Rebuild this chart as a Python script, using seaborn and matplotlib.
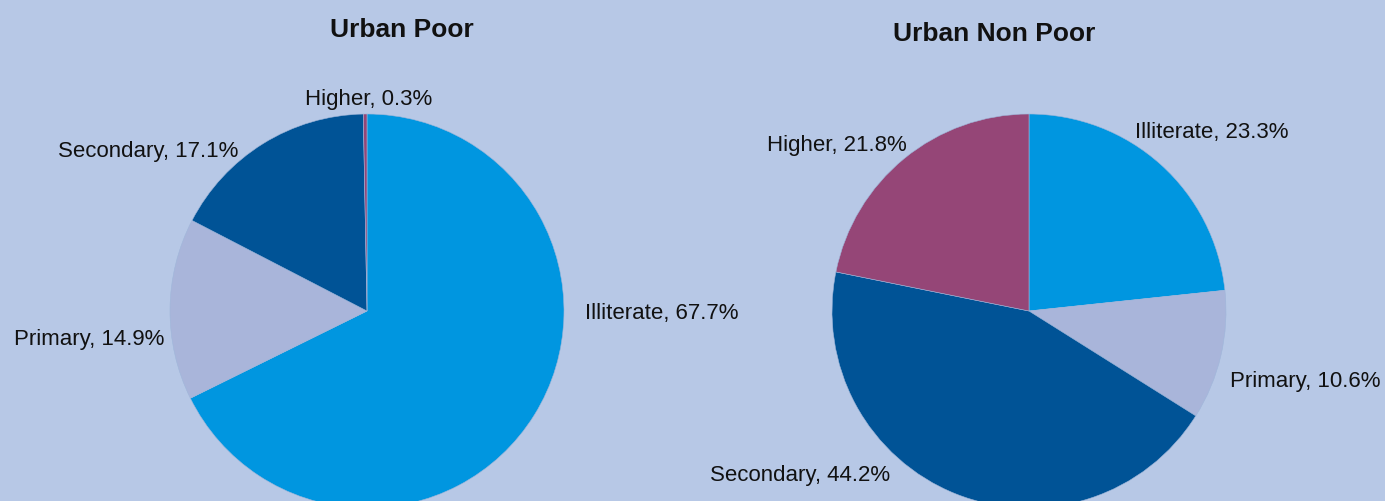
import matplotlib
matplotlib.use("Agg")
import matplotlib.pyplot as plt
import seaborn as sns

categories = ["Illiterate", "Primary", "Secondary", "Higher"]
poor_values = [67.7, 14.9, 17.1, 0.3]
nonpoor_values = [23.3, 10.6, 44.2, 21.8]
titles = ["Urban Poor", "Urban Non Poor"]

colors = ["#0096E0", "#A9B5DA", "#005396", "#954677"]
bg = "#B7C8E6"

sns.set_theme(style="white")
plt.rcParams['font.family'] = ['Liberation Sans', 'DejaVu Sans']

W, H = 1385, 501
fig = plt.figure(figsize=(W / 100, H / 100), dpi=100, facecolor=bg)

def px_axes(cx, cy, r):
    return fig.add_axes([(cx - r) / W, (H - cy - r) / H, 2 * r / W, 2 * r / H])

def place(text, x, y, size=16, **kw):
    fig.text(x / W, 1 - y / H, text, ha="center", va="center", fontsize=size,
             color="#111111", **kw)

# label pixel positions for each category (layout only)
poor_label_pos = [(662, 313), (89, 340), (148, 151), (369, 99)]
nonpoor_label_pos = [(1212, 132), (1305, 382), (800, 475), (837, 145)]

for (cx, cy), vals, title, tpos, lpos in [
    ((367, 311), poor_values, titles[0], (402, 30), poor_label_pos),
    ((1029, 311), nonpoor_values, titles[1], (994, 34), nonpoor_label_pos),
]:
    ax = px_axes(cx, cy, 197)
    ax.set_facecolor(bg)
    wedges, _ = ax.pie(vals, colors=colors, startangle=90, counterclock=False,
                       radius=1.0, wedgeprops=dict(linewidth=0.4, edgecolor="#9fb6da"))
    for w in wedges:
        w.set_clip_on(False)
    ax.set_xlim(-1, 1)
    ax.set_ylim(-1, 1)
    ax.set_aspect("equal")
    ax.axis("off")
    place(title, tpos[0], tpos[1], size=19, fontweight="bold")
    for cat, v, (x, y) in zip(categories, vals, lpos):
        place(f"{cat}, {v}%", x, y)

fig.savefig("out.png", dpi=100, facecolor=bg)
